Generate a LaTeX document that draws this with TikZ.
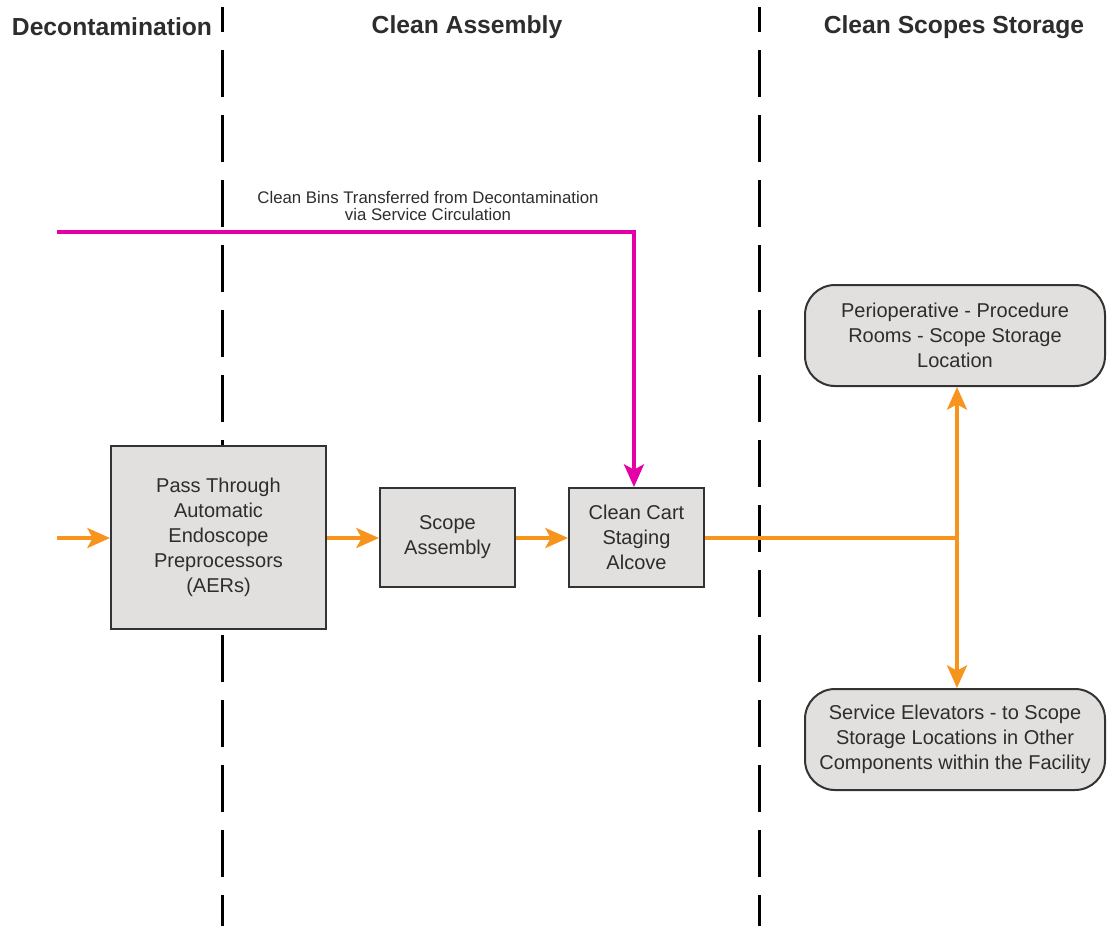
\documentclass[tikz,border=0pt]{standalone}
\usepackage{fontspec}
\setmainfont{Liberation Sans}
\usetikzlibrary{arrows.meta}
\definecolor{flow}{RGB}{247,148,30}
\definecolor{bins}{RGB}{228,0,166}
\definecolor{boxfill}{RGB}{225,224,222}
\definecolor{boxline}{RGB}{51,51,51}
\definecolor{ink}{RGB}{45,45,45}
\tikzset{
  zone/.style={line width=2.25pt, dash pattern=on 35.25pt off 13.5pt, dash phase=16.5pt, black},
  heading/.style={font=\fontsize{18.5}{22}\selectfont\bfseries, text=ink, inner sep=0pt},
  stepbox/.style={draw=boxline, fill=boxfill, line width=1.5pt, align=center, text=ink,
    font=\fontsize{15}{18.75}\selectfont, inner sep=0pt},
  storebox/.style={stepbox, rounded corners=22.5pt, minimum width=225pt, minimum height=75.75pt},
  tip/.style={-{Stealth[length=17pt,width=15pt,inset=4pt]}},
  flowline/.style={draw=flow, line width=2.8pt},
  binline/.style={draw=bins, line width=2.6pt},
  note/.style={font=\fontsize{12.6}{12.75}\selectfont, text=ink, align=center, inner sep=0pt},
}
\begin{document}
\begin{tikzpicture}[x=0.75pt, y=-0.75pt]
\useasboundingbox (0,0) rectangle (1110,926);

% zone dividers
\draw[zone] (222,7) -- (222,926);
\draw[zone] (759,7) -- (759,926);

% zone titles
\node[heading] (hdecon) at (112,27) {Decontamination};
\node[heading] (hclean) at (467,27) {Clean Assembly};
\node[heading] (hstore) at (954,27) {Clean Scopes Storage};

% process steps
\node[stepbox, minimum width=161.25pt, minimum height=137.25pt] (aer) at (218.5,537.5)
  {Pass Through\\Automatic\\Endoscope\\Preprocessors\\(AERs)};
\node[stepbox, minimum width=101.25pt, minimum height=74.25pt] (scope) at (447.5,537.5)
  {Scope\\Assembly};
\node[stepbox, minimum width=101.25pt, minimum height=74.25pt] (cart) at (636.5,537.5)
  {Clean Cart\\Staging\\Alcove};

% storage destinations
\node[storebox] (peri) at (955,335.5)
  {Perioperative - Procedure\\Rooms - Scope Storage\\Location};
\node[storebox] (elev) at (955,739.5)
  {Service Elevators - to Scope\\Storage Locations in Other\\Components within the Facility};

% clean bins route
\coordinate (binstart) at (57,232);
\coordinate (binend) at ([xshift=-1.9pt]cart.north);
\node[note] (binnote) at (428,206)
  {Clean Bins Transferred from Decontamination\\via Service Circulation};
\draw[binline, tip] (binstart) -- (binend |- binstart) -- (binend);

% scope flow
\coordinate (flowstart) at (57,538);
\coordinate (split) at (957,538);
\draw[flowline, tip] (flowstart) -- (aer.west |- flowstart);
\draw[flowline, tip] (aer.east |- flowstart) -- (scope.west |- flowstart);
\draw[flowline, tip] (scope.east |- flowstart) -- (cart.west |- flowstart);
\draw[flowline] (cart.east |- flowstart) -- (split);
\draw[flowline, tip] (split) -- (split |- peri.south);
\draw[flowline, tip] (split) -- (split |- elev.north);
\end{tikzpicture}
\end{document}
